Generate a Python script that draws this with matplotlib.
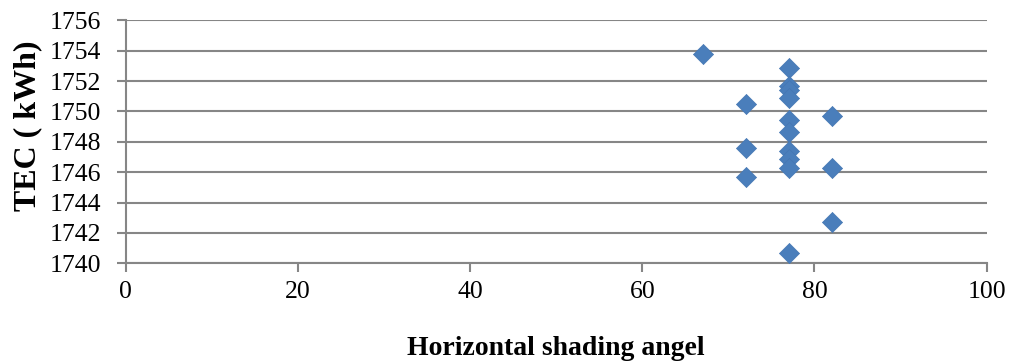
import matplotlib
matplotlib.use("Agg")
import matplotlib.pyplot as plt

# Data
shading_angle = [67, 72, 72, 72, 77, 77, 77, 77, 77, 77, 77, 77, 77, 77, 82, 82, 82]
tec_kwh = [1753.8, 1750.5, 1747.6, 1745.7,
           1752.85, 1751.7, 1751.4, 1750.9, 1749.45, 1748.65, 1747.4, 1746.85, 1746.25, 1740.7,
           1749.7, 1746.3, 1742.7]

x_ticks = [0, 20, 40, 60, 80, 100]
y_ticks = [1740, 1742, 1744, 1746, 1748, 1750, 1752, 1754, 1756]

plt.rcParams['font.family'] = ['Liberation Serif', 'DejaVu Serif']

fig = plt.figure(figsize=(10.14, 3.62), dpi=100)
ax = fig.add_axes([0.124, 0.2727, 0.973 - 0.124, 0.944 - 0.2727])

grid_color = '#868686'
ax.scatter(shading_angle, tec_kwh, marker='D', s=105,
           color='#4A7EBB', edgecolors='#4577B3', linewidths=0.5, zorder=3)

ax.set_xlim(0, 100)
ax.set_ylim(1740, 1756)
ax.set_xticks(x_ticks)
ax.set_yticks(y_ticks)
ax.yaxis.grid(True, color=grid_color, linewidth=1.5)
ax.set_axisbelow(True)

for s in ['top', 'right']:
    ax.spines[s].set_visible(False)
for s in ['left', 'bottom']:
    ax.spines[s].set_color(grid_color)
    ax.spines[s].set_linewidth(1.5)

ax.tick_params(axis='y', direction='out', length=6.5, width=1.5, color=grid_color,
               labelsize=18.5, pad=11)
ax.tick_params(axis='x', direction='out', length=6.5, width=1.5, color=grid_color,
               labelsize=18.5, pad=6)

ax.set_xlabel('Horizontal shading angel', fontsize=20, fontweight='bold', labelpad=24)
ax.set_ylabel('TEC ( kWh)', fontsize=23, fontweight='bold')
ax.yaxis.set_label_coords(-0.097, 0.565)

fig.savefig('out.png', dpi=100)
